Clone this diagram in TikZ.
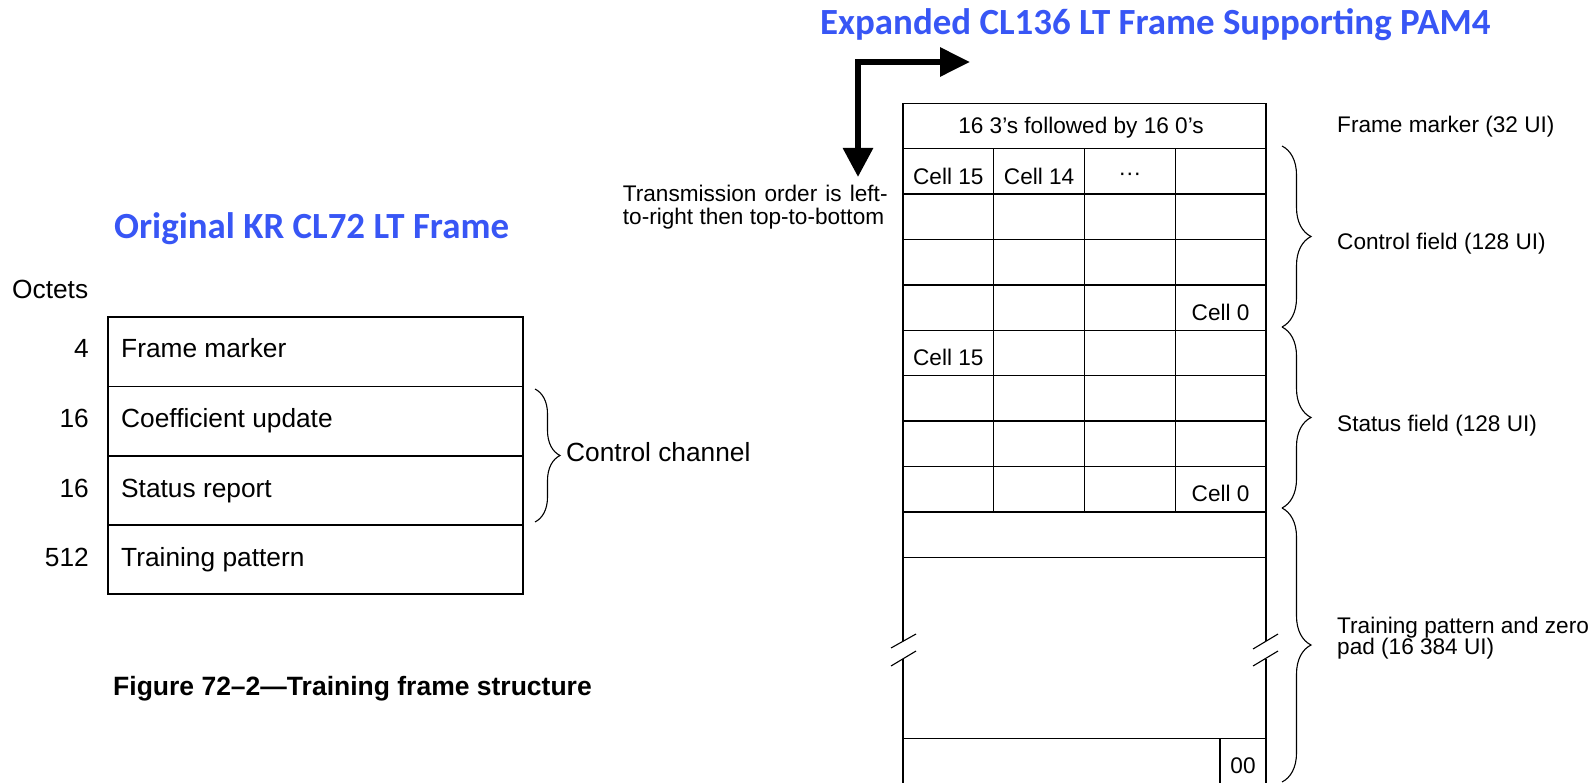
\documentclass[tikz,border=0pt]{standalone}
\usepackage{fontspec}
\setmainfont{Liberation Sans}
\newfontfamily\titlefont{Carlito}
\usetikzlibrary{decorations.pathreplacing,arrows.meta}
\definecolor{titleblue}{RGB}{56,86,245}
\begin{document}
\begin{tikzpicture}[x=1pt,y=-1pt,
  frame/.style={line width=1.4pt},
  lefttxt/.style={font=\fontsize{26.3}{30}\selectfont, inner sep=0pt},
  righttxt/.style={font=\fontsize{22.6}{26}\selectfont, inner sep=0pt},
  ttl/.style={font=\titlefont\bfseries\fontsize{36.9}{42}\selectfont, text=titleblue, inner sep=0pt, anchor=base west},
  bracestyle/.style={decorate, decoration={brace, amplitude=#1}, line width=1.1pt},
  brk/.style={line width=1.1pt},
]
\useasboundingbox (0,0) rectangle (1595,783);

% ---------- titles ----------
\node[ttl] (t1) at (114,239) {Original KR CL72 LT Frame};
\node[ttl] (t2) at (820,35) {Expanded CL136 LT Frame Supporting PAM4};

% ---------- left table ----------
\draw[frame] (108,317) rectangle (523,594);
\foreach \y in {386.5,456,525} \draw[frame] (108,\y) -- (523,\y);
\node[lefttxt, anchor=base west] (oct) at (12,299) {Octets};
\node[lefttxt, anchor=base east] (n1) at (89,358) {4};
\node[lefttxt, anchor=base east] (n2) at (89,427) {16};
\node[lefttxt, anchor=base east] (n3) at (89,497) {16};
\node[lefttxt, anchor=base east] (n4) at (89,566) {512};
\node[lefttxt, anchor=base west] (l1) at (121,358) {Frame marker};
\node[lefttxt, anchor=base west] (l2) at (121,427) {Coefficient update};
\node[lefttxt, anchor=base west] (l3) at (121,497) {Status report};
\node[lefttxt, anchor=base west] (l4) at (121,566) {Training pattern};
\coordinate (lbT) at (535,389);
\coordinate (lbB) at (535,522);
\draw[bracestyle=25pt] (lbT) -- (lbB);
\node[lefttxt, anchor=base west] (cc) at (566,461.5) {Control channel};
\node[lefttxt, anchor=base west, font=\bfseries\fontsize{26.5}{30}\selectfont] (cap) at (113,695) {Figure 72–2—Training frame structure};

% ---------- transmission order arrow ----------
\coordinate (arrS) at (858,177);
\coordinate (arrC) at (858,62);
\coordinate (arrE) at (970,62);
\draw[line width=6pt, line join=miter, {Triangle[length=29pt,width=29pt]}-{Triangle[length=30pt,width=28pt]}] (arrS) -- (arrC) -- (arrE);
\node[righttxt, anchor=base west] (tx1) at (622.7,201.7) {\makebox[264.7pt][s]{Transmission order is left-}};
\node[righttxt, anchor=base west] (tx2) at (622.7,224.3) {to-right then top-to-bottom};

% ---------- right table ----------
\def\XL{903}\def\XR{1266}
\draw[frame] (\XL,103.3) -- (\XR,103.3);
\draw[frame] (\XL,103.3) -- (\XL,641.3);
\draw[frame] (\XL,658.8) -- (\XL,790);
\draw[frame] (\XR,103.3) -- (\XR,641.3);
\draw[frame] (\XR,658.8) -- (\XR,790);
\foreach \i in {1,...,10} \draw[frame] (\XL,103.3+45.4*\i) -- (\XR,103.3+45.4*\i);
\draw[frame] (\XL,738.3) -- (\XR,738.3);
\foreach \x in {993.7,1084.5,1175.2} \draw[frame] (\x,148.7) -- (\x,511.9);
\draw[frame] (1220,738.3) -- (1220,790);
% break marks
\draw[brk] (891,648) -- (916,634);
\draw[brk] (891,666) -- (916,651);
\draw[brk] (1253,649) -- (1278,634);
\draw[brk] (1253,666) -- (1278,651);

\node[righttxt, anchor=base] (fm) at (1081,133.5) {16 3’s followed by 16 0’s};
\node[righttxt, anchor=base] (c15a) at (948.3,184.1) {Cell 15};
\node[righttxt, anchor=base] (c14a) at (1039.1,184.1) {Cell 14};
\node[righttxt, anchor=base] (dots) at (1129.8,181) {···};
\node[righttxt, anchor=base] (c0a) at (1220.6,320.3) {Cell 0};
\node[righttxt, anchor=base] (c15b) at (948.3,365.7) {Cell 15};
\node[righttxt, anchor=base] (c0b) at (1220.6,501.9) {Cell 0};
\node[righttxt, anchor=base] (zz) at (1243,773.7) {00};

% ---------- right braces and labels ----------
\draw[bracestyle=29pt] (1282,146) -- (1282,327);
\draw[bracestyle=29pt] (1282,327) -- (1282,508);
\draw[bracestyle=29pt] (1282,508) -- (1282,782);
\node[righttxt, anchor=base west] (r1) at (1337,132.7) {Frame marker (32 UI)};
\node[righttxt, anchor=base west] (r2) at (1337,250) {Control field (128 UI)};
\node[righttxt, anchor=base west] (r3) at (1337,431.7) {Status field (128 UI)};
\node[righttxt, anchor=base west] (r4a) at (1337,633) {Training pattern and zero};
\node[righttxt, anchor=base west] (r4b) at (1337,654) {pad (16 384 UI)};
\end{tikzpicture}
\end{document}
